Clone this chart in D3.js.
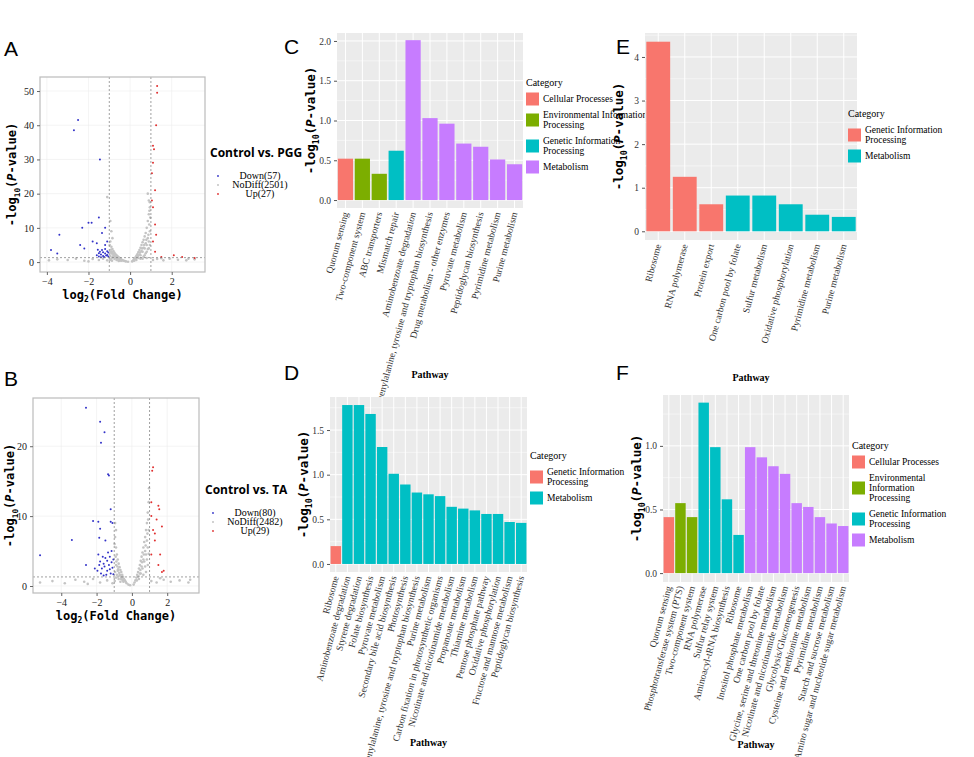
<!DOCTYPE html>
<html><head><meta charset="utf-8">
<script src="https://cdn.jsdelivr.net/npm/d3@7"></script>
<style>body{margin:0;background:#fff}</style></head>
<body><svg id="s" width="974" height="757"></svg>
<script>
// ---------- DATA ----------
const catColors4 = {"Cellular Processes":"#F8766D","Environmental Information Processing":"#7CAE00","Genetic Information Processing":"#00BFC4","Metabolism":"#C77CFF"};
const catColors2 = {"Genetic Information Processing":"#F8766D","Metabolism":"#00BFC4"};

const cPathways = ["Quorum sensing","Two-component system","ABC transporters","Mismatch repair","Aminobenzoate degradation","Phenylalanine, tyrosine and tryptophan biosynthesis","Drug metabolism - other enzymes","Pyruvate metabolism","Peptidoglycan biosynthesis","Pyrimidine metabolism","Purine metabolism"];
const cValues = [0.52,0.52,0.33,0.62,2.01,1.03,0.96,0.71,0.67,0.51,0.45];
const cCats = ["Cellular Processes","Environmental Information Processing","Environmental Information Processing","Genetic Information Processing","Metabolism","Metabolism","Metabolism","Metabolism","Metabolism","Metabolism","Metabolism"];

const dPathways = ["Ribosome","Aminobenzoate degradation","Styrene degradation","Folate biosynthesis","Pyruvate metabolism","Secondary bile acid biosynthesis","Photosynthesis","Phenylalanine, tyrosine and tryptophan biosynthesis","Purine metabolism","Carbon fixation in photosynthetic organisms","Nicotinate and nicotinamide metabolism","Propanoate metabolism","Thiamine metabolism","Pentose phosphate pathway","Oxidative phosphorylation","Fructose and mannose metabolism","Peptidoglycan biosynthesis"];
const dValues = [0.2,1.78,1.78,1.68,1.31,1.01,0.89,0.80,0.78,0.76,0.64,0.62,0.60,0.56,0.56,0.47,0.46];
const dCats = ["Genetic Information Processing"].concat(Array(16).fill("Metabolism"));

const ePathways = ["Ribosome","RNA polymerase","Protein export","One carbon pool by folate","Sulfur metabolism","Oxidative phosphorylation","Pyrimidine metabolism","Purine metabolism"];
const eValues = [4.35,1.25,0.62,0.82,0.82,0.62,0.38,0.33];
const eCats = ["Genetic Information Processing","Genetic Information Processing","Genetic Information Processing","Metabolism","Metabolism","Metabolism","Metabolism","Metabolism"];

const fPathways = ["Quorum sensing","Phosphotransferase system (PTS)","Two-component system","RNA polymerase","Sulfur relay system","Aminoacyl-tRNA biosynthesis","Ribosome","Inositol phosphate metabolism","One carbon pool by folate","Glycine, serine and threonine metabolism","Nicotinate and nicotinamide metabolism","Glycolysis/Gluconeogenesis","Cysteine and methionine metabolism","Pyrimidine metabolism","Starch and sucrose metabolism","Amino sugar and nucleotide sugar metabolism"];
const fValues = [0.44,0.55,0.44,1.34,0.99,0.58,0.30,0.99,0.91,0.84,0.78,0.55,0.52,0.44,0.39,0.37];
const fCats = ["Cellular Processes","Environmental Information Processing","Environmental Information Processing","Genetic Information Processing","Genetic Information Processing","Genetic Information Processing","Genetic Information Processing","Metabolism","Metabolism","Metabolism","Metabolism","Metabolism","Metabolism","Metabolism","Metabolism","Metabolism"];

// volcano A
const aGrey = [[-0.95,6],[-0.9,4.5],[-0.85,3.8],[-0.8,3.2],[-0.75,2.7],[-0.7,2.3],[-0.65,2],[-0.6,1.7],[-0.55,1.4],[-0.5,1.2],[-0.45,0.9],[-0.4,0.7],[-0.35,0.5],[-0.3,0.4],[-0.25,0.3],[-0.2,0.2],[-0.1,0.1],[-0.9,2.5],[-0.8,1.8],[-0.7,1.2],[-0.6,0.8],[-0.5,0.5],[-0.9,1],[-0.95,3],[-1.1,19],[-0.9,9],[-0.85,7],[-0.95,12],
[-0.98,5],[-0.92,3.6],[-0.88,2.9],[-0.82,2.4],[-0.78,1.9],[-0.72,1.6],[-0.68,1.3],[-0.62,1.1],[-0.58,0.9],[-0.52,0.7],[-0.48,0.5],[-0.42,0.4],[-0.85,1.4],[-0.75,0.9],[-0.65,0.6],[-0.55,0.3],[-0.95,1.8],[-0.97,0.6],[-0.87,0.4],
[0.1,0.2],[0.15,0.5],[0.2,0.9],[0.25,1.3],[0.3,1.8],[0.35,2.3],[0.4,2.9],[0.45,3.5],[0.5,4.2],[0.55,5],[0.6,5.8],[0.65,6.5],[0.7,7.5],[0.75,8.5],[0.8,10],[0.85,12],[0.9,14],[0.95,16],[0.9,18],[0.85,20],[0.95,17.5],[0.6,3],[0.7,4],[0.8,5],[0.9,6],[0.5,2],[0.4,1.2],[0.3,0.6],[0.7,2],[0.8,3],[0.9,4],[0.6,1],[0.8,1.2],
[0.45,2.2],[0.55,3.2],[0.65,4.2],[0.75,5.5],[0.85,7],[0.95,9],[0.92,11],[0.88,8],[0.78,6.5],[0.68,5],[0.58,4],[0.48,2.8],[0.38,1.8],[0.28,1],[0.2,0.4],[0.5,1],[0.65,1.6],[0.75,2.6],[0.85,3.8],[0.95,5],[0.97,13],[0.93,15],
[-3.9,0.5],[-3.5,0.8],[-3,0.6],[-2.6,1],[-2.2,0.4],[-1.8,0.9],[-1.5,0.6],[-1.3,1],[-1.1,0.5],[1.1,0.6],[1.3,0.9],[1.6,0.5],[1.9,1],[2.3,0.7],[2.7,0.5],[3.1,0.8],[-2,0.2],[1.5,1.1],[2.8,1]];
const aBlue = [[-2.5,41.5],[-2.7,38.5],[-1.45,30],[-1.5,13],[-2,11.5],[-1.85,11.5],[-2.3,10],[-3.4,8],[-1.35,8.5],[-1.2,10],[-2.4,5],[-1.6,5.5],[-1.8,6],[-3.8,3.5],[-3.5,2.5],[-2.2,4],[-1.1,6],[-1.2,5],
[-1.5,1.6],[-1.4,2.2],[-1.3,1.8],[-1.2,2.5],[-1.1,3.2],[-1.45,3],[-1.35,3.5],[-1.25,1.5],[-1.15,1.9],[-1.05,2.8],[-1.5,2.6],[-1.3,2.9],[-1.2,3.8],[-1.1,2.1],[-1.4,1.4],[-1.05,1.6],[-1.6,2],[-1.55,3.6]];
const aRed = [[1.3,51.5],[1.3,49.5],[1.25,40],[1.1,34],[1.15,33],[1.1,29],[1.05,26],[1.2,21],[1.05,18],[1.1,16],[1.2,11],[1.25,8],[1.1,6],[2.1,2],[2.5,1.5],[3.1,1.2],[1.2,3],[1.5,1.5]];

// volcano B
const bGrey = [[-0.95,7],[-0.9,5.5],[-0.85,4.5],[-0.8,3.8],[-0.75,3.2],[-0.7,2.7],[-0.65,2.3],[-0.6,2],[-0.55,1.6],[-0.5,1.3],[-0.45,1],[-0.4,0.8],[-0.35,0.6],[-0.3,0.4],[-0.2,0.2],[-0.1,0.1],[-0.9,3],[-0.8,2.2],[-0.7,1.5],[-0.6,1],[-0.9,1.2],[-0.95,9],[-0.9,8],
[-0.98,6],[-0.92,4.2],[-0.88,3.5],[-0.82,2.8],[-0.78,2.4],[-0.72,1.9],[-0.68,1.6],[-0.62,1.3],[-0.58,1],[-0.52,0.8],[-0.48,0.6],[-0.85,1.6],[-0.75,1],[-0.65,0.6],[-0.95,2],[-0.97,0.7],
[0.1,0.2],[0.15,0.5],[0.2,0.8],[0.25,1.2],[0.3,1.6],[0.35,2],[0.4,2.5],[0.45,3],[0.5,3.6],[0.55,4.2],[0.6,4.8],[0.65,5.5],[0.7,6.3],[0.75,7],[0.8,8],[0.85,9],[0.9,10.5],[0.95,12],[0.6,2.5],[0.7,3.5],[0.8,4.5],[0.9,5.5],[0.5,1.8],[0.4,1],[0.8,2],[0.9,3],
[0.45,1.8],[0.55,2.8],[0.65,3.8],[0.75,5],[0.85,6.5],[0.95,8],[0.92,9.5],[0.88,7.5],[0.78,5.8],[0.68,4.5],[0.58,3.4],[0.48,2.3],[0.38,1.4],[0.28,0.8],[0.65,1.6],[0.75,2.8],[0.85,3.8],[0.95,4.6],[0.97,14],
[-5.2,0.5],[-4.5,0.7],[-3.8,0.4],[-3.2,0.9],[-2.7,0.6],[-2.2,1],[-1.8,0.5],[-1.4,0.8],[-1.1,0.4],[1.1,0.7],[1.4,0.5],[1.8,0.9],[2.2,0.6],[2.7,0.8],[3.2,0.5],[-2.5,0.3],[1.6,1.1],[3.3,0.9]];
const bBlue = [[-2.6,25.5],[-1.8,23.5],[-1.55,22],[-1.75,20.5],[-1.3,15.8],[-1.35,16],[-1.2,11],[-1.2,9.2],[-2.2,9.3],[-1.9,9.2],[-1.8,8.2],[-3.4,6.6],[-1.5,6.5],[-1.85,6.9],[-5.2,4.4],[-2.6,3],[-1.1,9],[-1.15,5],
[-1.9,4.5],[-1.8,3.5],[-1.7,2.5],[-1.6,3.2],[-1.5,4],[-1.4,2.2],[-1.3,3],[-1.2,1.8],[-1.1,2.6],[-1.05,3.8],[-1.75,1.8],[-1.65,4.2],[-1.45,1.6],[-1.35,4.8],[-1.25,2.4],[-1.15,3.4],[-1.55,2.8],[-1.95,2.2],[-1.85,3],[-1.6,1.5],[-1.25,4.2],[-1.4,3.6],[-2.1,2.5],[-1.05,1.7]];
const bRed = [[1.2,17],[1.15,16.5],[1.1,12],[1.5,11.5],[1.55,11],[1.7,8.5],[1.4,9.5],[1.1,10],[1.2,8],[1.3,6.5],[1.6,4.5],[1.5,3],[1.8,2.2],[1.7,2],[1.1,4.5],[1.3,7.5]];

// ---------- DRAW ----------
const svg = d3.select("#s");
const serif = "'Liberation Serif','Times New Roman',serif";
const mono = "'DejaVu Sans Mono',monospace";

function letter(t,x,y){svg.append("text").attr("x",x).attr("y",y).text(t).attr("font-family","'Liberation Sans',Arial,sans-serif").attr("font-size",21).attr("fill","#000");}
[["A",4,56],["B",4,386],["C",284,54],["D",284,380],["E",616,54],["F",616,380]].forEach(d=>letter(...d));

function yTitle(g,x,y,size){
  const t=g.append("text").attr("transform",`translate(${x},${y}) rotate(-90)`).attr("text-anchor","middle").attr("font-family",mono).attr("font-weight","bold").attr("font-size",size);
  t.append("tspan").text("-log");
  t.append("tspan").text("10").attr("font-size",size*0.65).attr("dy",size*0.3);
  t.append("tspan").text("(").attr("dy",-size*0.3);
  t.append("tspan").text("P").attr("font-style","italic");
  t.append("tspan").text("-value)");
}

function volcano(o){
  const g=svg.append("g");
  const x=d3.scaleLinear().domain(o.xd).range([o.x0,o.x1]);
  const y=d3.scaleLinear().domain(o.yd).range([o.y1,o.y0]);
  g.append("rect").attr("x",o.x0).attr("y",o.y0).attr("width",o.x1-o.x0).attr("height",o.y1-o.y0).attr("fill","#fff");
  const grid=g.append("g").attr("stroke","#ececec").attr("stroke-width",0.6);
  o.xt.forEach(v=>grid.append("line").attr("x1",x(v)).attr("x2",x(v)).attr("y1",o.y0).attr("y2",o.y1));
  o.yt.forEach(v=>grid.append("line").attr("y1",y(v)).attr("y2",y(v)).attr("x1",o.x0).attr("x2",o.x1));
  const pts=(arr,c,r)=>g.append("g").selectAll("circle").data(arr).join("circle").attr("cx",d=>x(d[0])).attr("cy",d=>y(d[1])).attr("r",r).attr("fill",c);
  pts(o.grey,"#c4c4c4",1.3);pts(o.blue,"#3232c8",1);pts(o.red,"#e03030",1);
  const dl=g.append("g").attr("stroke","#777").attr("stroke-width",0.7).attr("stroke-dasharray","2,2");
  [-1,1].forEach(v=>dl.append("line").attr("x1",x(v)).attr("x2",x(v)).attr("y1",o.y0).attr("y2",o.y1));
  dl.append("line").attr("x1",o.x0).attr("x2",o.x1).attr("y1",y(1.3)).attr("y2",y(1.3));
  g.append("rect").attr("x",o.x0).attr("y",o.y0).attr("width",o.x1-o.x0).attr("height",o.y1-o.y0).attr("fill","none").attr("stroke","#bbb").attr("stroke-width",1.2);
  const ax=g.append("g").attr("transform",`translate(0,${o.y1})`).call(d3.axisBottom(x).tickValues(o.xt).tickSize(3).tickFormat(d3.format("d")));
  const ay=g.append("g").attr("transform",`translate(${o.x0},0)`).call(d3.axisLeft(y).tickValues(o.yt).tickSize(3));
  [ax,ay].forEach(a=>{a.select(".domain").remove();a.selectAll("text").attr("font-family",serif).attr("font-size",10).attr("fill","#222");a.selectAll("line").attr("stroke","#666");});
  yTitle(g,o.x0-o.tOff,(o.y0+o.y1)/2,12);
  const xt=g.append("text").attr("x",(o.x0+o.x1)/2).attr("y",o.y1+27).attr("text-anchor","middle").attr("font-family",mono).attr("font-weight","bold").attr("font-size",12);
  xt.append("tspan").text("log");xt.append("tspan").text("2").attr("font-size",8).attr("dy",3);xt.append("tspan").text("(Fold Change)").attr("dy",-3);
  g.append("text").attr("x",o.lx).attr("y",o.ly).text(o.title).attr("font-family","'Open Sans','Liberation Sans',sans-serif").attr("font-weight","bold").attr("font-size",12);
  o.leg.forEach((t,i)=>{
    const yy=o.ly+22+i*9;
    g.append("circle").attr("cx",o.lx+8).attr("cy",yy-3).attr("r",0.9).attr("fill",["#3232c8","#bdbdbd","#e03030"][i]);
    g.append("text").attr("x",o.lx+50).attr("y",yy).attr("text-anchor","middle").text(t).attr("font-family",serif).attr("font-size",10);
  });
}

volcano({x0:40,x1:205,y0:77,y1:272,xd:[-4.33,3.6],yd:[-2.9,54.1],xt:[-4,-2,0,2],yt:[0,10,20,30,40,50],grey:aGrey,blue:aBlue,red:aRed,lx:210,ly:157,tOff:24,title:"Control vs. PGG",leg:["Down(57)","NoDiff(2501)","Up(27)"]});
volcano({x0:33,x1:199,y0:398,y1:593,xd:[-5.6,3.8],yd:[-1,26.9],xt:[-4,-2,0,2],yt:[0,10,20],grey:bGrey,blue:bBlue,red:bRed,lx:205,ly:494,tOff:19,title:"Control vs. TA",leg:["Down(80)","NoDiff(2482)","Up(29)"]});

function bars(o){
  const g=svg.append("g");
  const x=d3.scaleBand().domain(o.names).range([o.x0,o.x1]).paddingInner(0.1).paddingOuter(0.05);
  const y=d3.scaleLinear().domain(o.yd).range([o.y1,o.y0]);
  g.append("rect").attr("x",o.x0).attr("y",o.y0).attr("width",o.x1-o.x0).attr("height",o.y1-o.y0).attr("fill","#EBEBEB");
  const minor=[];for(let i=0;i<o.yt.length-1;i++)minor.push((o.yt[i]+o.yt[i+1])/2);
  minor.push(o.yt[o.yt.length-1]+(o.yt[1]-o.yt[0])/2);
  minor.filter(v=>v<o.yd[1]).forEach(v=>g.append("line").attr("x1",o.x0).attr("x2",o.x1).attr("y1",y(v)).attr("y2",y(v)).attr("stroke","#fff").attr("stroke-width",0.5));
  o.yt.forEach(v=>g.append("line").attr("x1",o.x0).attr("x2",o.x1).attr("y1",y(v)).attr("y2",y(v)).attr("stroke","#fff").attr("stroke-width",1));
  o.names.forEach(n=>g.append("line").attr("x1",x(n)+x.bandwidth()/2).attr("x2",x(n)+x.bandwidth()/2).attr("y1",o.y0).attr("y2",o.y1).attr("stroke","#fff").attr("stroke-width",1));
  g.selectAll("rect.b").data(o.vals).join("rect").attr("class","b").attr("x",(d,i)=>x(o.names[i])).attr("width",x.bandwidth()).attr("y",d=>y(d)).attr("height",d=>y(0)-y(d)).attr("fill",(d,i)=>o.pal[o.cats[i]]);
  const ay=g.append("g").attr("transform",`translate(${o.x0},0)`).call(d3.axisLeft(y).tickValues(o.yt).tickSize(3).tickFormat(d3.format(o.fmt)));
  ay.select(".domain").remove();ay.selectAll("text").attr("font-family",serif).attr("font-size",9.5).attr("fill","#333");ay.selectAll("line").attr("stroke","#555");
  o.names.forEach(n=>g.append("text").attr("transform",`translate(${x(n)+x.bandwidth()/2+3},${o.y1+5}) rotate(-75)`).attr("text-anchor","end").text(n).attr("font-family",serif).attr("font-size",9.6).attr("fill","#333"));
  yTitle(g,o.x0-22,(o.y0+o.y1)/2,12.5);
  g.append("text").attr("x",(o.x0+o.x1)/2).attr("y",o.py).attr("text-anchor","middle").text("Pathway").attr("font-family",serif).attr("font-weight","bold").attr("font-size",10);
  g.append("text").attr("x",o.lx).attr("y",o.ly).text("Category").attr("font-family",serif).attr("font-size",10);
  let yy=o.ly+6;
  o.leg.forEach(l=>{
    const lines=l[1];
    const h=Math.max(14,lines.length*10+4);
    const ry=yy+(h-13)/2;
    g.append("rect").attr("x",o.lx).attr("y",ry).attr("width",13).attr("height",13).attr("fill",o.pal[l[0]]);
    lines.forEach((t,k)=>g.append("text").attr("x",o.lx+17).attr("y",yy+10+k*10+(h-lines.length*10-4)/2).text(t).attr("font-family",serif).attr("font-size",9.5));
    yy+=h+2;
  });
}

bars({names:cPathways,vals:cValues,cats:cCats,pal:catColors4,x0:337,x1:523,y0:33,y1:208,yd:[-0.1,2.1],yt:[0,0.5,1,1.5,2],fmt:".1f",py:378,lx:526,ly:86,
  leg:[["Cellular Processes",["Cellular Processes"]],["Environmental Information Processing",["Environmental Information","Processing"]],["Genetic Information Processing",["Genetic Information","Processing"]],["Metabolism",["Metabolism"]]]});
bars({names:ePathways,vals:eValues,cats:eCats,pal:catColors2,x0:645,x1:857,y0:33,y1:240,yd:[-0.2,4.55],yt:[0,1,2,3,4],fmt:"d",py:381,lx:848,ly:117,
  leg:[["Genetic Information Processing",["Genetic Information","Processing"]],["Metabolism",["Metabolism"]]]});
bars({names:dPathways,vals:dValues,cats:dCats,pal:catColors2,x0:330,x1:527,y0:397,y1:572,yd:[-0.09,1.87],yt:[0,0.5,1,1.5],fmt:".1f",py:746,lx:530,ly:459,
  leg:[["Genetic Information Processing",["Genetic Information","Processing"]],["Metabolism",["Metabolism"]]]});
bars({names:fPathways,vals:fValues,cats:fCats,pal:catColors4,x0:663,x1:849,y0:395,y1:582,yd:[-0.07,1.4],yt:[0,0.5,1],fmt:".1f",py:748,lx:852,ly:449,
  leg:[["Cellular Processes",["Cellular Processes"]],["Environmental Information Processing",["Environmental","Information","Processing"]],["Genetic Information Processing",["Genetic Information","Processing"]],["Metabolism",["Metabolism"]]]});
</script></body></html>
